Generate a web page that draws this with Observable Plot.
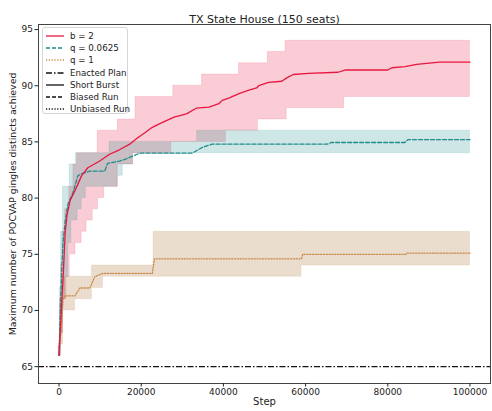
<!DOCTYPE html>
<html>
<head>
<meta charset="utf-8">
<script src="https://cdn.jsdelivr.net/npm/d3@7"></script>
<script src="https://cdn.jsdelivr.net/npm/@observablehq/plot@0.6"></script>
<style>
  html, body { margin: 0; padding: 0; background: #fff; }
  #wrap { position: relative; width: 492px; height: 411px; font-family: "DejaVu Sans", sans-serif; }
  #legend { position: absolute; left: 42px; top: 27px; width: 86px; height: 87px; border: 1px solid #d6d6d6; border-radius: 3px; background: rgba(255,255,255,0.85); box-sizing: border-box; }
  .lg { position: absolute; left: 2px; height: 12px; font-size: 8.7px; color: #222; white-space: nowrap; }
  .lg svg { position: absolute; left: 0; top: 2px; }
  .lg span { position: absolute; left: 25px; top: 0; line-height: 12px; }
</style>
</head>
<body>
<div id="wrap"></div>
<script>
// ---- data (step, value) ----
const xTicks = [0, 20000, 40000, 60000, 80000, 100000];
const yTicks = [65, 70, 75, 80, 85, 90, 95];
const enactedValue = 65;

// b = 2 (short burst)
const redMean = [[0,66],[250,68],[700,71],[1000,73],[1250,75],[1500,77],[1950,78.5],[2700,79.8],[4300,81],[5500,82],[7000,82.7],[9900,83.3],[12300,83.9],[14700,84.3],[17200,84.8],[18900,85.3],[20800,85.8],[22700,86.3],[24400,86.6],[26100,86.9],[28000,87.2],[31000,87.5],[33400,88.0],[36500,88.1],[38900,88.4],[39700,88.7],[41300,88.9],[43800,89.3],[46200,89.6],[48100,89.8],[48600,90.0],[51000,90.3],[54200,90.4],[55400,90.7],[57000,91.0],[60700,91.1],[67900,91.2],[69600,91.4],[80000,91.4],[81000,91.6],[84200,91.7],[87000,91.9],[92600,92.1],[100000,92.1]];
const redUpper = [[0,67],[250,71],[500,74],[900,77],[1500,79],[2500,81],[3500,83],[4400,84],[9400,86],[14300,87],[18600,89],[27800,90],[34800,91],[43800,92],[50800,93],[55100,94],[100000,94]];
const redLower = [[0,66],[500,68],[1000,71],[1800,73],[2600,75],[4000,76],[5500,77],[6700,78],[8200,79],[9500,80],[11000,81],[14300,83],[18000,84],[27300,85],[40600,86],[48400,87],[55400,88],[69400,89],[100000,89]];

// q = 0.0625 (biased run)
const tealMean = [[0,66],[300,70],[700,74],[970,76],[1500,78],[2180,79.5],[3390,80.5],[4600,82],[5800,82.2],[7500,82.4],[11100,82.4],[11850,83.1],[14750,83.3],[16400,83.5],[19600,84.0],[32400,84.0],[34800,84.5],[37200,84.8],[65300,84.8],[66200,84.95],[84150,84.95],[84900,85.2],[100000,85.2]];
const tealUpper = [[0,67],[200,72],[500,77],[970,81],[2600,83],[4100,84],[12300,85],[33600,86],[100000,86]];
const tealLower = [[0,66],[400,68],[900,71],[1500,73],[2200,76],[3000,78],[4500,79],[5500,80],[6500,81],[14300,82],[15500,83],[18000,84],[100000,84]];

// q = 1 (unbiased run)
const brownMean = [[0,66],[240,67],[725,69.4],[970,71],[1450,71.3],[3870,71.3],[5080,72],[7500,72],[8700,73],[10640,73.3],[22700,73.3],[23200,74.6],[59000,74.6],[59300,75.0],[84400,75.0],[84700,75.1],[100000,75.1]];
const brownUpper = [[0,66],[200,68],[500,71],[725,73],[8000,74],[23000,77],[100000,77]];
const brownLower = [[0,66],[400,67],[970,70],[3900,71],[8000,72],[10700,73],[59000,74],[100000,74]];

const legendLabels = ["b = 2", "q = 0.0625", "q = 1", "Enacted Plan", "Short Burst", "Biased Run", "Unbiased Run"];

// ---- helpers ----
const RED = "#e8173f", TEAL = "#1f8c8c", BROWN = "#c98a4b";
function band(lo, hi) {
  const xs = Array.from(new Set([...lo.map(d => d[0]), ...hi.map(d => d[0])])).sort((a, b) => a - b);
  const at = (arr, x) => { let v = arr[0][1]; for (const [s, y] of arr) if (s <= x) v = y; return v; };
  return xs.map(x => ({x, lo: at(lo, x), hi: at(hi, x)}));
}
const bandMark = (lo, hi, color, op) => Plot.areaY(band(lo, hi), {x: "x", y1: "lo", y2: "hi", curve: "step-after", fill: color, fillOpacity: op, stroke: color, strokeOpacity: 0.12, strokeWidth: 1});

const plot = Plot.plot({
  width: 492, height: 411,
  marginTop: 24, marginBottom: 28, marginLeft: 38, marginRight: 2,
  style: {fontFamily: "DejaVu Sans, sans-serif", fontSize: "9px", color: "#222", background: "transparent"},
  x: {domain: [-5000, 105000]},
  y: {domain: [63.5, 95.45]},
  marks: [
    bandMark(redLower, redUpper, RED, 0.22),
    bandMark(tealLower, tealUpper, TEAL, 0.22),
    bandMark(brownLower, brownUpper, "#b07a3f", 0.26),
    Plot.ruleY([enactedValue], {stroke: "#111", strokeWidth: 1.3, strokeDasharray: "6,2,1.5,2"}),
    Plot.line(brownMean, {x: d => d[0], y: d => d[1], stroke: BROWN, strokeWidth: 1.3, strokeDasharray: "1.2,1.6"}),
    Plot.line(tealMean, {x: d => d[0], y: d => d[1], stroke: TEAL, strokeWidth: 1.3, strokeDasharray: "4,2"}),
    Plot.line(redMean, {x: d => d[0], y: d => d[1], stroke: RED, strokeWidth: 1.3}),
    Plot.frame({stroke: "#444", strokeWidth: 1}),
    Plot.axisX({ticks: xTicks, tickFormat: d => String(d), tickSize: 3.5, tickPadding: 2, label: null, fontSize: 9}),
    Plot.axisY({ticks: yTicks, tickFormat: d => String(d), tickSize: 3.5, tickPadding: 2, label: null, fontSize: 9}),
    Plot.text(["TX State House (150 seats)"], {frameAnchor: "top", dy: -9, fontSize: 11, fill: "#222"}),
    Plot.text(["Step"], {frameAnchor: "bottom", dy: 21, fontSize: 10, fill: "#222"}),
    Plot.text(["Maximum number of POCVAP gingles distincts achieved"], {frameAnchor: "left", textAnchor: "middle", dx: -26, rotate: -90, fontSize: 9.4, fill: "#222"})
  ]
});
const wrap = document.getElementById("wrap");
wrap.appendChild(plot);

// legend (HTML overlay)
const styles = [
  {c: RED, d: ""}, {c: TEAL, d: "4,2"}, {c: BROWN, d: "1.2,1.6"},
  {c: "#111", d: "6,2,1.5,2"}, {c: "#111", d: ""}, {c: "#111", d: "4,2"}, {c: "#111", d: "1.2,1.6"}
];
const lg = document.createElement("div");
lg.id = "legend";
legendLabels.forEach((t, i) => {
  const row = document.createElement("div");
  row.className = "lg";
  row.style.top = (2 + i * 12.2) + "px";
  const s = styles[i];
  row.innerHTML = `<svg width="20" height="8"><line x1="1" y1="4" x2="19" y2="4" stroke="${s.c}" stroke-width="1.3" ${s.d ? `stroke-dasharray="${s.d}"` : ""}/></svg><span>${t}</span>`;
  lg.appendChild(row);
});
wrap.appendChild(lg);
</script>
</body>
</html>
